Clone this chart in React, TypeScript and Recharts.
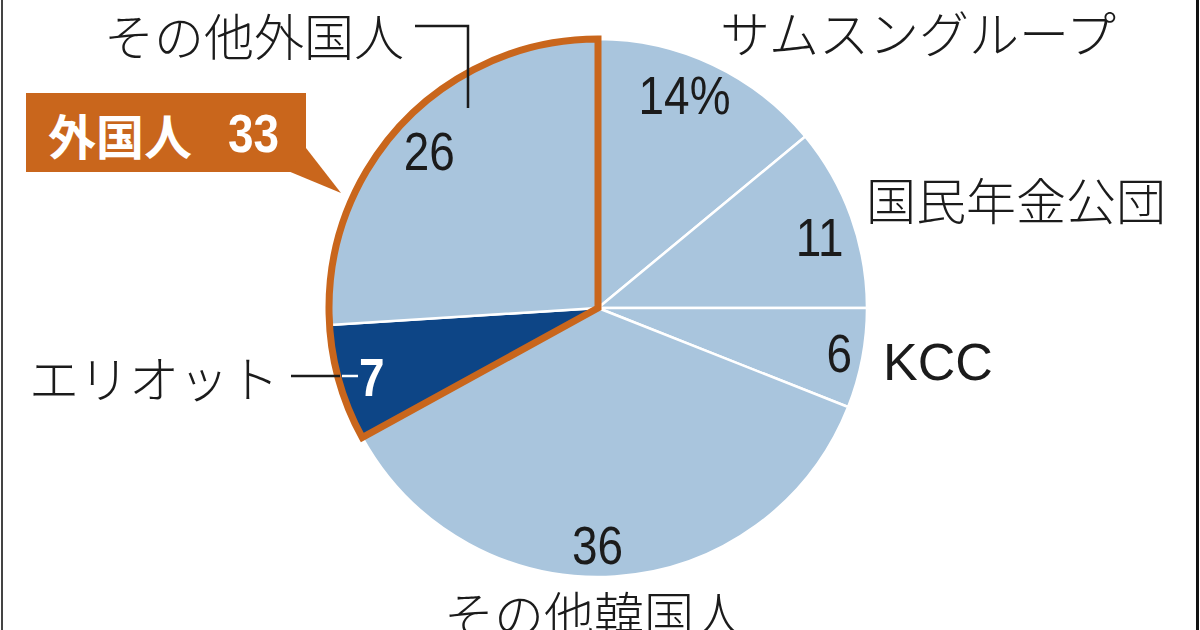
import { PieChart, Pie, Cell } from "recharts";

// shareholders, % (clockwise from 12 o'clock)
const HOLDERS = ["サムスングループ", "国民年金公団", "KCC", "その他韓国人", "エリオット", "その他外国人"];
const SHARES = [14, 11, 6, 36, 7, 26];
const VALUE_TEXT = ["14%", "11", "6", "36", "7", "26"];

// outline group: domestic vs foreign
const GROUPS = ["韓国人", "外国人"];
const GROUP_SHARES = [67, 33];

const LIGHT = "#a9c5dd";
const NAVY = "#0d4586";
const ORANGE = "#c9661c";
const INK = "#1b1b1b";

const NUM_FONT = "'Liberation Sans Narrow', 'Liberation Sans', Arial, sans-serif";
const JP_FONT = "'Noto Sans CJK JP', sans-serif";

const data = HOLDERS.map((name, i) => ({ name, value: SHARES[i], text: VALUE_TEXT[i] }));
const groupData = GROUPS.map((name, i) => ({ name, value: GROUP_SHARES[i] }));

const CX = 598;
const CY = 308;
const R = 269;
const RAD = Math.PI / 180;

// label layout, relative to pie centre
const VALUE_NUDGE: [number, number][] = [[-12, -3], [4, 8], [14, 2], [-15, 7], [-4, 5], [0, 2]];
const NAME_POS: { dx: number; dy: number; anchor: "start" | "middle" | "end" }[] = [
  { dx: 320, dy: -277, anchor: "middle" },
  { dx: 268, dy: -110, anchor: "start" },
  { dx: 285, dy: 54, anchor: "start" },
  { dx: -4, dy: 304, anchor: "middle" },
  { dx: -319, dy: 68, anchor: "end" },
  { dx: -194, dy: -274, anchor: "end" },
];

// condensed numerals, like the print font
function Num({ x, y, anchor = "middle", bold = false, fill = INK, children }: any) {
  return (
    <text
      transform={`translate(${x},${y}) scale(0.85,1)`}
      textAnchor={anchor}
      dominantBaseline="central"
      fontFamily={NUM_FONT}
      fontSize={54}
      fontWeight={bold ? 700 : 400}
      fill={fill}
    >
      {children}
    </text>
  );
}

function HolderLabel(props: any) {
  const { midAngle, index } = props;
  const cx = props.cx ?? CX;
  const cy = props.cy ?? CY;
  const r = (props.outerRadius ?? R) * 0.86;
  const [nx, ny] = VALUE_NUDGE[index];
  const vx = cx + r * Math.cos(midAngle * RAD) + nx;
  const vy = cy - r * Math.sin(midAngle * RAD) + ny;
  const np = NAME_POS[index];
  const isNavy = index === 4;
  return (
    <g>
      <Num x={vx} y={vy} bold={isNavy} fill={isNavy ? "#fff" : INK}>
        {data[index].text}
      </Num>
      <text
        x={cx + np.dx}
        y={cy + np.dy}
        textAnchor={np.anchor}
        dominantBaseline="central"
        fontFamily={index === 2 ? "'Liberation Sans', Arial, sans-serif" : JP_FONT}
        fontSize={index === 2 ? 52 : 50}
        fontWeight={300}
        fill={INK}
      >
        {data[index].name}
      </text>
      {index === 5 && (
        <polyline
          points={`${cx - 183},${cy - 282} ${cx - 130},${cy - 282} ${cx - 130},${cy - 200}`}
          fill="none"
          stroke={INK}
          strokeWidth={2.5}
        />
      )}
      {index === 4 && (
        <g>
          <line x1={cx - 307} y1={cy + 68} x2={cx - 258} y2={cy + 68} stroke={INK} strokeWidth={2.5} />
          <line x1={cx - 256} y1={cy + 68} x2={cx - 240} y2={cy + 68} stroke="#fff" strokeWidth={2.5} />
        </g>
      )}
    </g>
  );
}

function GroupLabel(props: any) {
  if (props.index !== 1) return null;
  const cx = props.cx ?? CX;
  const cy = props.cy ?? CY;
  const bx = cx - 572;
  const by = cy - 215;
  return (
    <g>
      <rect x={bx} y={by} width={280} height={79} fill={ORANGE} />
      <polygon
        points={`${cx - 310},${cy - 137} ${cx - 292},${cy - 160} ${cx - 257},${cy - 115}`}
        fill={ORANGE}
      />
      <text
        x={bx + 22}
        y={by + 41}
        dominantBaseline="central"
        fontFamily={JP_FONT}
        fontSize={48}
        fontWeight={700}
        fill="#fff"
      >
        {props.name}
      </text>
      <Num x={bx + 253} y={by + 41} anchor="end" bold fill="#fff">
        {props.value}
      </Num>
    </g>
  );
}

export default function App() {
  return (
    <div style={{ position: "fixed", left: 0, top: 0, width: 1200, height: 630, background: "#fff", overflow: "hidden" }}>
      <PieChart width={1200} height={630} margin={{ top: 0, right: 0, bottom: 0, left: 0 }}>
        <Pie
          data={data}
          dataKey="value"
          nameKey="name"
          cx={CX}
          cy={CY}
          outerRadius={R}
          startAngle={90}
          endAngle={-270}
          stroke="#fff"
          strokeWidth={2.5}
          label={HolderLabel}
          labelLine={false}
          isAnimationActive={false}
        >
          {data.map((d, i) => (
            <Cell key={d.name} fill={i === 4 ? NAVY : LIGHT} />
          ))}
        </Pie>
        <Pie
          data={groupData}
          dataKey="value"
          nameKey="name"
          cx={CX}
          cy={CY}
          outerRadius={R}
          startAngle={90}
          endAngle={-270}
          label={GroupLabel}
          labelLine={false}
          isAnimationActive={false}
        >
          {groupData.map((d, i) => (
            <Cell
              key={d.name}
              fill="none"
              stroke={i === 1 ? ORANGE : "none"}
              strokeWidth={7}
              strokeLinejoin="miter"
            />
          ))}
        </Pie>
      </PieChart>
      <div style={{ position: "absolute", left: 1, top: 0, width: 2, height: 630, background: "#444" }} />
      <div style={{ position: "absolute", left: 1196, top: 0, width: 3, height: 630, background: "#111" }} />
    </div>
  );
}
